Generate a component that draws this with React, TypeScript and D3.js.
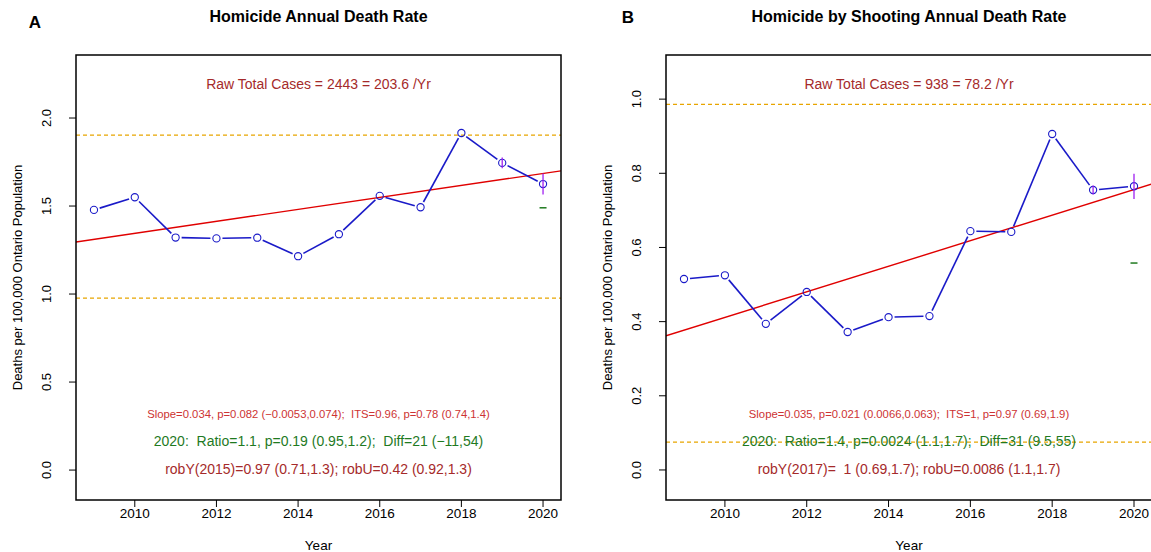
import { scaleLinear } from "d3";
import React from "react";

// ---- data ----
const years = [2009, 2010, 2011, 2012, 2013, 2014, 2015, 2016, 2017, 2018, 2019, 2020];
const xTicks = [2010, 2012, 2014, 2016, 2018, 2020];

const homicideRate = [1.478, 1.55, 1.321, 1.316, 1.32, 1.215, 1.34, 1.558, 1.493, 1.915, 1.745, 1.625];
const homicideErr = [0, 0, 0, 0, 0, 0, 0, 0, 0, 0, 0.03, 0.06];
const homicideTrend = [1.311, 1.685]; // fitted values at 2009 and 2020
const homicideLimits = [0.977, 1.903];
const homicideExpected2020 = 1.49;
const homicideTicks = [0, 0.5, 1, 1.5, 2];

const shootingRate = [0.515, 0.525, 0.394, 0.48, 0.372, 0.412, 0.415, 0.644, 0.642, 0.906, 0.755, 0.765];
const shootingErr = [0, 0, 0, 0, 0, 0, 0, 0, 0, 0, 0.012, 0.034];
const shootingTrend = [0.377, 0.756];
const shootingLimits = [0.075, 0.986];
const shootingExpected2020 = 0.558;
const shootingTicks = [0, 0.2, 0.4, 0.6, 0.8, 1.0];

const FONT = "'Liberation Sans', Arial, Helvetica, sans-serif";
const BLUE = "#1a1ac8";
const BROWN = "#a52a2a";
const SLOPE_RED = "#cd3333";
const GREEN = "#1f7a1f";
const ORANGE = "#e8a500";
const PURPLE = "#a020f0";

interface PanelProps {
  letter: string;
  title: string;
  left: number;
  right: number;
  yDomain: [number, number];
  yTicks: number[];
  rate: number[];
  err: number[];
  trend: number[];
  limits: number[];
  expected: number;
  lines: string[];
  fmt: (v: number) => string;
}

const Panel: React.FC<PanelProps> = (p) => {
  const top = 55;
  const bottom = 500;
  const x = scaleLinear().domain([2008.56, 2020.44]).range([p.left, p.right]);
  const y = scaleLinear().domain(p.yDomain).range([bottom, top]);
  const cx = (p.left + p.right) / 2;
  const gap = 6;

  const pts = years.map((yr, i) => [x(yr), y(p.rate[i])]);
  const segs = pts.slice(1).map((b, i) => {
    const a = pts[i];
    const dx = b[0] - a[0];
    const dy = b[1] - a[1];
    const len = Math.hypot(dx, dy);
    if (len < 2 * gap) return null;
    const ux = dx / len;
    const uy = dy / len;
    return (
      <line key={i} x1={a[0] + ux * gap} y1={a[1] + uy * gap} x2={b[0] - ux * gap} y2={b[1] - uy * gap}
        stroke={BLUE} strokeWidth={1.6} />
    );
  });

  const trendAt = (yr: number) => p.trend[0] + (p.trend[1] - p.trend[0]) * (yr - 2009) / 11;

  return (
    <g fontFamily={FONT}>
      <text x={p.letter === "A" ? 35 : 628} y={p.letter === "A" ? 28 : 23} fontSize={17} fontWeight="bold"
        textAnchor="middle">{p.letter}</text>
      <text x={cx} y={22} fontSize={16} fontWeight="bold" textAnchor="middle">{p.title}</text>

      <defs>
        <clipPath id={`clip${p.letter}`}>
          <rect x={p.left} y={top} width={p.right - p.left} height={bottom - top} />
        </clipPath>
      </defs>

      <g clipPath={`url(#clip${p.letter})`}>
        {p.limits.map((v, i) => (
          <line key={i} x1={p.left} x2={p.right} y1={y(v)} y2={y(v)} stroke={ORANGE} strokeWidth={1.2}
            strokeDasharray="4,3" />
        ))}
        <line x1={x(2008.56)} x2={x(2020.44)} y1={y(trendAt(2008.56))} y2={y(trendAt(2020.44))}
          stroke="#e00000" strokeWidth={1.4} />
        {segs}
        {pts.map((d, i) => (
          <circle key={i} cx={d[0]} cy={d[1]} r={3.6} fill="none" stroke={BLUE} strokeWidth={1.1} />
        ))}
        {years.map((yr, i) =>
          p.err[i] > 0 ? (
            <line key={yr} x1={x(yr)} x2={x(yr)} y1={y(p.rate[i] - p.err[i])} y2={y(p.rate[i] + p.err[i])}
              stroke={PURPLE} strokeWidth={1.3} />
          ) : null
        )}
        <line x1={x(2020) - 3.5} x2={x(2020) + 3.5} y1={y(p.expected)} y2={y(p.expected)}
          stroke={GREEN} strokeWidth={1.5} />
      </g>

      <rect x={p.left} y={top} width={p.right - p.left} height={bottom - top} fill="none" stroke="#000"
        strokeWidth={1.5} />

      {xTicks.map((t) => (
        <g key={t}>
          <line x1={x(t)} x2={x(t)} y1={bottom} y2={bottom + 7} stroke="#000" strokeWidth={1} />
          <text x={x(t)} y={518} fontSize={13.5} textAnchor="middle">{t}</text>
        </g>
      ))}
      {p.yTicks.map((t) => (
        <g key={t}>
          <line x1={p.left - 7} x2={p.left} y1={y(t)} y2={y(t)} stroke="#000" strokeWidth={1} />
          <text transform={`translate(${p.left - 25},${y(t)}) rotate(-90)`} fontSize={13} textAnchor="middle">
            {p.fmt(t)}
          </text>
        </g>
      ))}
      <text x={cx} y={550} fontSize={13.5} textAnchor="middle">Year</text>
      <text transform={`translate(${p.left - 54},${(top + bottom) / 2}) rotate(-90)`} fontSize={13}
        textAnchor="middle">Deaths per 100,000 Ontario Population</text>

      <text x={cx} y={89} fontSize={14} fill={BROWN} textAnchor="middle">{p.lines[0]}</text>
      <text x={cx} y={418} fontSize={11.3} fill={SLOPE_RED} textAnchor="middle" style={{ whiteSpace: "pre" }}>
        {p.lines[1]}
      </text>
      <text x={cx} y={446} fontSize={14} fill={GREEN} textAnchor="middle" style={{ whiteSpace: "pre" }}>
        {p.lines[2]}
      </text>
      <text x={cx} y={474} fontSize={14} fill={BROWN} textAnchor="middle" style={{ whiteSpace: "pre" }}>
        {p.lines[3]}
      </text>
    </g>
  );
};

const homicideLines = [
  "Raw Total Cases = 2443 = 203.6 /Yr",
  "Slope=0.034, p=0.082 (\u22120.0053,0.074);  ITS=0.96, p=0.78 (0.74,1.4)",
  "2020:  Ratio=1.1, p=0.19 (0.95,1.2);  Diff=21 (\u221211,54)",
  "robY(2015)=0.97 (0.71,1.3); robU=0.42 (0.92,1.3)",
];
const shootingLines = [
  "Raw Total Cases = 938 = 78.2 /Yr",
  "Slope=0.035, p=0.021 (0.0066,0.063);  ITS=1, p=0.97 (0.69,1.9)",
  "2020:  Ratio=1.4, p=0.0024 (1.1,1.7);  Diff=31 (9.5,55)",
  "robY(2017)=  1 (0.69,1.7); robU=0.0086 (1.1,1.7)",
];

export default function App() {
  return (
    <svg width={1151} height={552} style={{ position: "absolute", left: 0, top: 0, background: "#fff" }}>
      <rect width={1151} height={552} fill="#fff" />
      <Panel letter="A" title="Homicide Annual Death Rate" left={76} right={561} yDomain={[-0.17, 2.358]}
        yTicks={homicideTicks} rate={homicideRate} err={homicideErr} trend={homicideTrend}
        limits={homicideLimits} expected={homicideExpected2020} lines={homicideLines}
        fmt={(v) => v.toFixed(1)} />
      <Panel letter="B" title="Homicide by Shooting Annual Death Rate" left={666} right={1152}
        yDomain={[-0.081, 1.119]} yTicks={shootingTicks} rate={shootingRate} err={shootingErr}
        trend={shootingTrend} limits={shootingLimits} expected={shootingExpected2020} lines={shootingLines}
        fmt={(v) => v.toFixed(1)} />
    </svg>
  );
}
